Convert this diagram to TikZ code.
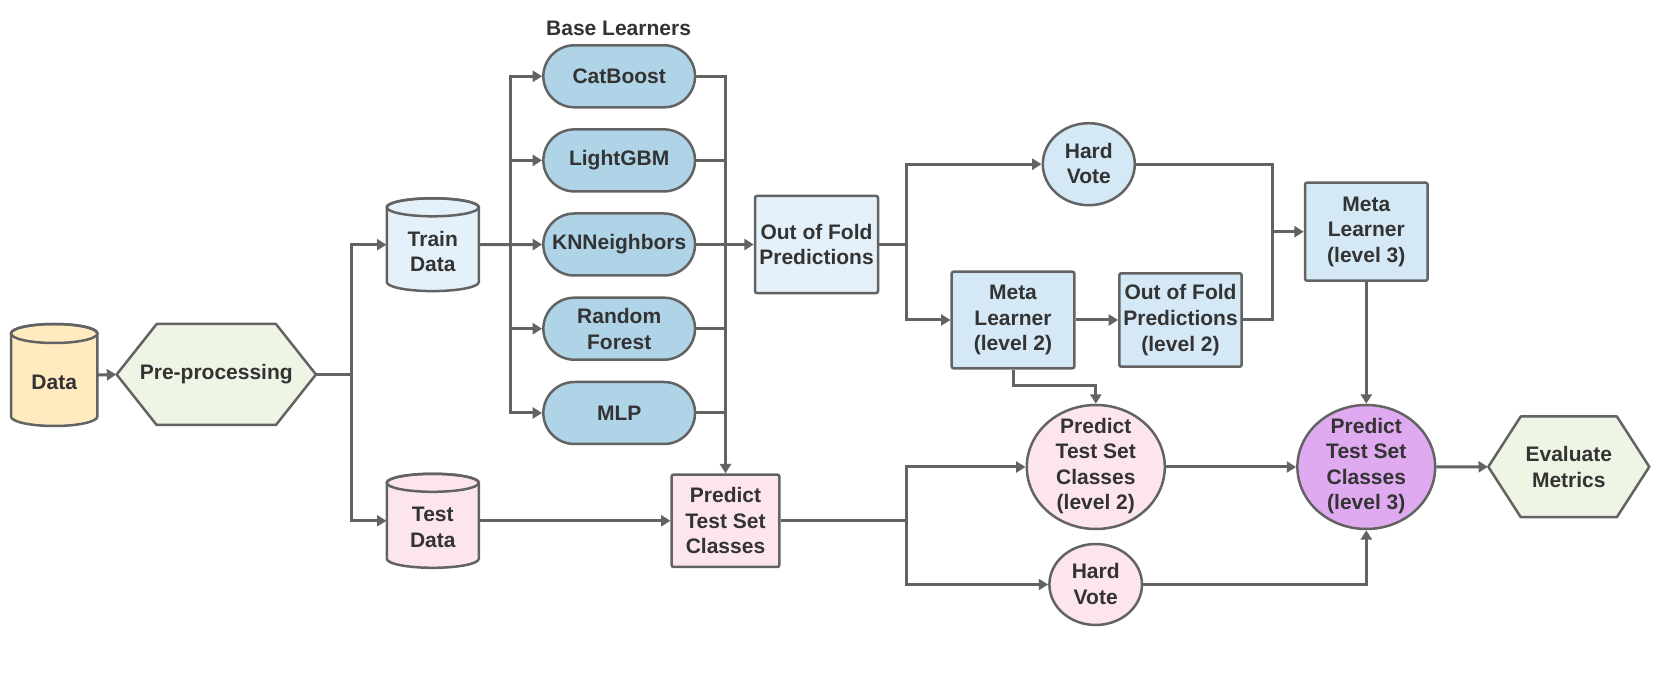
\documentclass[tikz,border=0pt]{standalone}
\usepackage{fontspec}
\setmainfont{Liberation Sans}
\usetikzlibrary{arrows.meta,shapes.geometric,shapes.misc,calc}
\definecolor{lc}{HTML}{636363}
\definecolor{tc}{HTML}{333333}
\definecolor{cdata}{HTML}{FFEBBF}
\definecolor{cgreen}{HTML}{EEF5E5}
\definecolor{clight}{HTML}{E5F1FA}
\definecolor{clearn}{HTML}{AFD4E8}
\definecolor{cmeta}{HTML}{D5E8F5}
\definecolor{cpink}{HTML}{FCE5EB}
\definecolor{cpurple}{HTML}{DFAAF0}
\newcommand\mycyl[8]{%
 \path[fill=#7, draw=lc, line width=1.25pt] (#2-#4,#3-#5+#6) -- (#2-#4,#3+#5-#6) arc[start angle=180,end angle=360,x radius=#4*0.5pt,y radius=#6*0.5pt] -- (#2+#4,#3-#5+#6) arc[start angle=0,end angle=180,x radius=#4*0.5pt,y radius=#6*0.5pt] -- cycle;
 \draw[draw=lc, line width=1.25pt] (#2,#3-#5+#6) ellipse[x radius=#4*0.5pt,y radius=#6*0.5pt];
 \node[inner sep=0, minimum width=#4*1pt, minimum height=#5*1pt] (#1) at (#2,#3) {};
 \node[txt] (#1t) at (#2,#3+#6*0.75) {#8};
}
\newcommand\myhex[8]{%
 \path[fill=#7, draw=lc, line width=1.25pt, line join=round] (#2-#4,#3) -- (#2-#4+#6,#3-#5) -- (#2+#4-#6,#3-#5) -- (#2+#4,#3) -- (#2+#4-#6,#3+#5) -- (#2-#4+#6,#3+#5) -- cycle;
 \node[inner sep=0, minimum width=#4*1pt, minimum height=#5*1pt] (#1) at (#2,#3) {};
 \node[txt] (#1t) at (#2,#3) {#8};
}
\begin{document}
\begin{tikzpicture}[x=0.5pt,y=-0.5pt,
 txt/.style={font=\fontsize{10.5pt}{12.8pt}\selectfont\bfseries, text=tc, align=center, inner sep=0},
 box/.style={rectangle, draw=lc, line width=1.25pt, rounded corners=1pt, txt},
 learner/.style={rounded rectangle, draw=lc, line width=1.25pt, fill=clearn, minimum width=75.85pt, minimum height=31pt, txt},
 ell/.style={ellipse, draw=lc, line width=1.25pt, inner sep=0},
 ln/.style={draw=lc, line width=1.5pt},
 arr/.style={ln, -{Triangle[length=4.7pt,width=5.5pt]}}
]
\useasboundingbox (0,0) rectangle (1661,673);

% left part
\mycyl{data}{54.2}{375}{43.2}{51}{9.5}{cdata}{Data}
\myhex{pp}{216.3}{374.5}{99.65}{50.5}{40}{cgreen}{Pre-processing}
\mycyl{train}{432.8}{244.7}{46}{46.4}{9}{clight}{Train\\Data}
\mycyl{test}{432.8}{520.8}{46}{47}{9}{cpink}{Test\\Data}

% base learners
\node[txt] (bl) at (618.6,28.6) {Base Learners};
\node[learner] (cat) at (619.2,76.3) {CatBoost};
\node[learner] (lgb) at (619.2,160.4) {LightGBM};
\node[learner] (knn) at (619.2,244.5) {KNNeighbors};
\node[learner] (rf) at (619.2,328.7) {Random\\Forest};
\node[learner] (mlp) at (619.2,413) {MLP};

\node[box, fill=clight, minimum width=61.5pt, minimum height=48.6pt] (oof) at (816.5,244.5) {Out of Fold\\Predictions};
\node[box, fill=cpink, minimum width=53.8pt, minimum height=46.2pt] (pts) at (725.5,520.8) {Predict\\Test Set\\Classes};

% level 2
\node[ell, fill=cmeta, minimum width=46pt, minimum height=41pt] (hv1) at (1088.8,164.2) {};
\node[txt] (hv1t) at (1088.8,163.5) {Hard\\Vote};
\node[box, fill=cmeta, minimum width=61.3pt, minimum height=48.3pt] (ml2) at (1013,320) {Meta\\Learner\\(level 2)};
\node[box, fill=cmeta, minimum width=61.2pt, minimum height=46.7pt] (oof2) at (1180.5,320) {Out of Fold\\Predictions\\(level 2)};
\node[box, fill=cmeta, minimum width=61.3pt, minimum height=49pt] (ml3) at (1366.3,231.7) {Meta\\Learner\\(level 3)};

\node[ell, fill=cpink, minimum width=69pt, minimum height=62pt] (pl2) at (1095.8,467) {};
\node[txt] (pl2t) at (1095.8,466) {Predict\\Test Set\\Classes\\(level 2)};
\node[ell, fill=cpink, minimum width=46.3pt, minimum height=40.5pt] (hv2) at (1095.7,584.5) {};
\node[txt] (hv2t) at (1095.7,584) {Hard\\Vote};
\node[ell, fill=cpurple, minimum width=68.9pt, minimum height=62pt] (pl3) at (1366.3,467) {};
\node[txt] (pl3t) at (1366.3,466) {Predict\\Test Set\\Classes\\(level 3)};
\myhex{ev}{1568.8}{466.8}{80.5}{50.3}{32.4}{cgreen}{Evaluate\\Metrics}

% connectors
\draw[arr] (data.east) -- (pp.west);
\coordinate (j1) at (351,374.5);
\draw[ln] (pp.east) -- (j1);
\draw[arr] (j1) |- (train.west);
\draw[arr] (j1) |- (test.west);

\coordinate (j2) at (510,244.5);
\draw[arr] (train.east) -- (knn.west);
\draw[arr] (j2) |- (cat.west);
\draw[arr] (j2) |- (lgb.west);
\draw[arr] (j2) |- (rf.west);
\draw[arr] (j2) |- (mlp.west);

\draw[arr] (cat.east) -| (pts.north);
\draw[ln] (lgb.east) -- (lgb.east -| pts.north);
\draw[ln] (rf.east) -- (rf.east -| pts.north);
\draw[ln] (mlp.east) -- (mlp.east -| pts.north);
\draw[arr] (knn.east) -- (oof.west);
\draw[arr] (test.east) -- (pts.west);

\coordinate (j3) at (906,244.5);
\draw[ln] (oof.east) -- (j3);
\draw[arr] (j3) |- (hv1.west);
\draw[arr] (j3) |- (ml2.west);
\draw[arr] (ml2.east) -- (oof2.west);
\coordinate (j4) at (1272.3,231.7);
\draw[ln] (hv1.east) -| (j4) |- (oof2.east);
\draw[arr] (j4) -- (ml3.west);
\draw[arr] (ml2.south) |- ($(pl2.north)+(0,-18)$) -- (pl2.north);
\draw[arr] (ml3.south) -- (pl3.north);

\coordinate (j5) at (906,520.8);
\draw[ln] (pts.east) -- (j5);
\draw[arr] (j5) |- (pl2.west);
\draw[arr] (j5) |- (hv2.west);
\draw[arr] (pl2.east) -- (pl3.west);
\draw[arr] (hv2.east) -| (pl3.south);
\draw[arr] (pl3.east) -- (ev.west);
\end{tikzpicture}
\end{document}
